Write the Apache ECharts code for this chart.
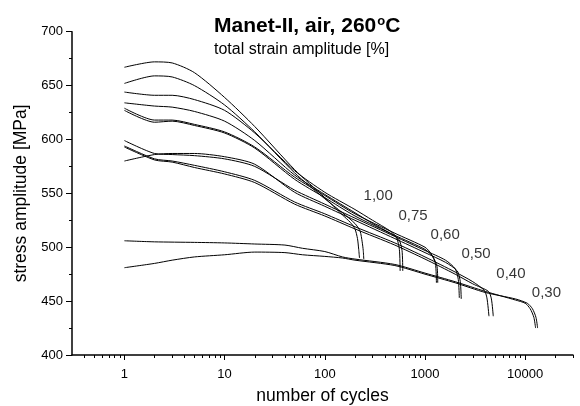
<!DOCTYPE html>
<html>
<head>
<meta charset="utf-8">
<script src="https://cdn.jsdelivr.net/npm/echarts@6/dist/echarts.min.js"></script>
<style>
  html, body { margin: 0; padding: 0; background: #fff; }
  #chart { width: 580px; height: 406px; }
</style>
</head>
<body>
<div id="chart"></div>
<script>
// curves: [cycles, stress amplitude MPa]
var strain100a = [[1,667],[2,672],[3,671],[5,662],[10,639],[20,612],[50,572],[100,546],[150,530],[180,523],[200,517],[212,508],[218,498],[222,490]];
var strain100b = [[1,652],[2,659],[3,658],[5,650],[10,632],[20,607],[50,569],[100,545],[150,532],[200,522],[225,515],[236,505],[242,497],[245,489]];
var strain075a = [[1,644],[2,641],[3,641],[5,637],[10,627],[20,606],[50,571],[100,551],[200,535],[300,525],[450,515],[520,509],[555,498],[565,478]];
var strain075b = [[1,634],[2,631],[3,630],[5,626],[10,617],[20,599],[50,567],[100,549],[200,532],[300,522],[450,513],[550,507],[590,497],[600,478]];
var strain060a = [[1,629],[2,618],[3,618],[5,614],[10,607],[20,593],[50,565],[100,548],[200,531],[500,513],[1000,500],[1150,494],[1270,485],[1300,467]];
var strain060b = [[1,627],[2,616],[3,617],[5,613],[10,606],[20,592],[50,563],[100,546],[200,529],[500,511],[1000,498],[1200,491],[1320,482],[1340,467]];
var strain050a = [[1,599],[2,587],[3,586],[5,585],[10,582],[20,575],[50,553],[100,540],[200,527],[500,510],[1000,497],[1600,488],[2000,480],[2150,470],[2200,453]];
var strain050b = [[1,580],[2,586],[3,587],[5,587],[10,584],[20,577],[50,551],[100,538],[200,525],[500,508],[1000,495],[1600,486],[2100,478],[2250,468],[2300,452]];
var strain040a = [[1,594],[2,582],[3,580],[5,576],[10,570],[20,562],[50,542],[100,531],[200,519],[500,504],[1000,491],[2000,477],[3000,468],[3900,460],[4150,453],[4350,436]];
var strain040b = [[1,593],[2,581],[3,579],[5,574],[10,568],[20,560],[50,540],[100,529],[200,517],[500,502],[1000,489],[2000,475],[3000,466],[4300,459],[4600,452],[4800,436]];
var strain030a = [[1,506],[2,505],[5,504.5],[10,504],[20,503],[40,502],[60,499],[100,496],[150,491],[200,489],[500,484],[1000,476],[2000,468],[4000,459],[8000,451],[10000,448],[11200,443],[12200,435],[12700,425]];
var strain030b = [[1,481],[2,485],[3,488],[5,491],[10,493],[20,495.5],[40,495],[60,493],[100,491.5],[150,490],[200,488],[500,483],[1000,475],[2000,467],[4000,458],[8000,452],[10500,448],[11800,443],[12800,435],[13300,425]];

var curves = [strain100a, strain100b, strain075a, strain075b, strain060a, strain060b,
              strain050a, strain050b, strain040a, strain040b, strain030a, strain030b];

// amplitude labels and where they sit
var amplitudeLabels = ['1,00', '0,75', '0,60', '0,50', '0,40', '0,30'];
var labelCycles = [341, 761, 1590, 3230, 7210, 16300];
var labelStress = [547.6, 529, 511.4, 493.8, 475.2, 458];

// tick values
var xMajorTicks = [1, 10, 100, 1000, 10000];
var xMinorTicks = [0.4,0.5,0.6,0.7,0.8,0.9, 2,3,4,5,6,7,8,9, 20,30,40,50,60,70,80,90,
                   200,300,400,500,600,700,800,900, 2000,3000,4000,5000,6000,7000,8000,9000, 20000,30000];

var FONT = '"Liberation Sans", Arial, Helvetica, sans-serif';

var chart = echarts.init(document.getElementById('chart'));

var series = curves.map(function(c){
    return {
        type: 'line',
        data: c,
        xAxisIndex: 0,
        symbol: 'none',
        smooth: 0.25,
        lineStyle: { color: '#000', width: 1 },
        silent: true
    };
});

series.push({
    type: 'scatter',
    xAxisIndex: 0,
    symbolSize: 0,
    itemStyle: { color: '#000' },
    data: amplitudeLabels.map(function(t, i){
        return { name: t, value: [labelCycles[i], labelStress[i]] };
    }),
    label: {
        show: true,
        position: 'inside',
        formatter: '{b}',
        color: '#000',
        textBorderWidth: 0,
        fontSize: 15,
        fontFamily: FONT
    },
    silent: true
});

var option = {
    animation: false,
    backgroundColor: '#fff',
    title: {
        text: 'Manet-II, air, 260{sup|o}C',
        subtext: 'total strain amplitude [%]',
        left: 209,
        top: 10,
        itemGap: 5,
        textStyle: {
            fontFamily: FONT, fontSize: 21, fontWeight: 'bold', color: '#000',
            rich: {
                sup: { fontFamily: FONT, fontSize: 13, fontWeight: 'bold', color: '#000', padding: [0, 0, 10, 1] }
            }
        },
        subtextStyle: { fontFamily: FONT, fontSize: 16, color: '#000' }
    },
    grid: { left: 72, right: 7, top: 31.7, bottom: 51, outerBoundsMode: 'none' },
    xAxis: [{
        type: 'log',
        logBase: 10,
        min: 0.3,
        max: 30000,
        name: 'number of cycles',
        nameLocation: 'middle',
        nameGap: 32,
        nameTextStyle: { fontFamily: FONT, fontSize: 17.5, color: '#000' },
        axisLine: { lineStyle: { color: '#000', width: 1.5 } },
        axisTick: { customValues: xMajorTicks, length: 5, lineStyle: { color: '#000', width: 1 } },
        axisLabel: {
            customValues: xMajorTicks, margin: 13, fontFamily: FONT, fontSize: 13, color: '#000',
            formatter: function(v){ return String(Math.round(v)); }
        },
        splitLine: { show: false }
    }, {
        type: 'log',
        logBase: 10,
        min: 0.3,
        max: 30000,
        position: 'bottom',
        axisLine: { show: false },
        axisTick: { customValues: xMinorTicks, length: 3, lineStyle: { color: '#000', width: 1 } },
        axisLabel: { show: false },
        splitLine: { show: false }
    }],
    yAxis: {
        type: 'value',
        min: 400,
        max: 700,
        interval: 50,
        name: 'stress amplitude [MPa]',
        nameLocation: 'middle',
        nameGap: 41,
        nameTextStyle: { fontFamily: FONT, fontSize: 17.5, color: '#000' },
        axisLine: { show: true, lineStyle: { color: '#000', width: 1.5 } },
        axisTick: { show: true, length: 6, lineStyle: { color: '#000', width: 1 } },
        minorTick: { show: true, splitNumber: 2, length: 3, lineStyle: { color: '#000', width: 1 } },
        axisLabel: { margin: 9, fontFamily: FONT, fontSize: 13, color: '#000' },
        splitLine: { show: false }
    },
    series: series
};

chart.setOption(option);
</script>
</body>
</html>
